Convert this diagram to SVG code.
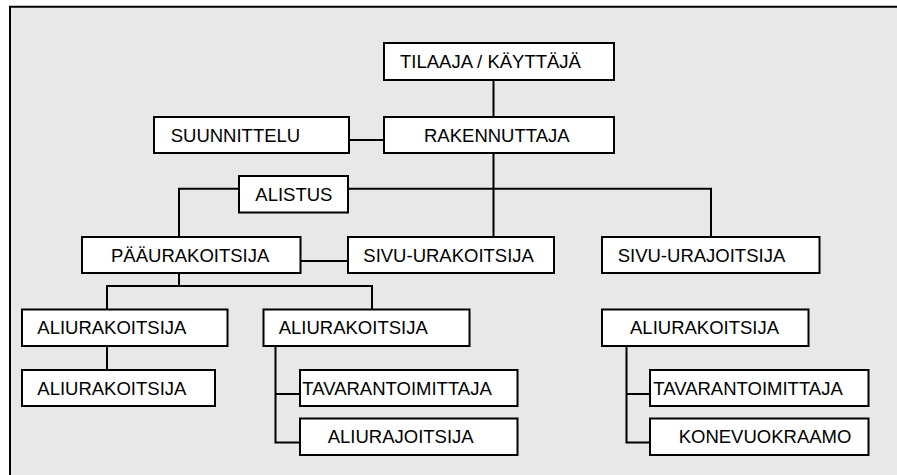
<svg xmlns="http://www.w3.org/2000/svg" width="897" height="475" viewBox="0 0 897 475">
<style>
.bx{fill:#fff;stroke:#000;stroke-width:2}
.t{font-family:"Liberation Sans",Arial,sans-serif;font-size:18.5px;fill:#000}
.c{fill:none;stroke:#000;stroke-width:2}
</style>
<rect x="0" y="0" width="897" height="475" fill="#fff"/>
<rect x="10" y="7" width="887" height="468" fill="#e8e8e8"/>
<path d="M10 475 V6.7 H897" fill="none" stroke="#000" stroke-width="2"/>
<g id="connectors" class="c">
<path d="M493.5 80 V117"/>
<path d="M349 140 H384"/>
<path d="M493.5 153 V237"/>
<path d="M179 237 V188.7 H239"/>
<path d="M348 188.7 H711 V237"/>
<path d="M300 261 H348"/>
<path d="M179 273 V286"/>
<path d="M107 309 V286 H372 V309"/>
<path d="M107 346 V370"/>
<path d="M275.5 346 V442.5 H300 M275.5 394 H300"/>
<path d="M626.5 346 V442.5 H650 M626.5 394 H650"/>
</g>
<g id="tilaaja"><rect class="bx" x="384" y="43" width="230" height="37"/><text class="t" x="400" y="68.3">TILAAJA / KÄYTTÄJÄ</text></g>
<g id="rakennuttaja"><rect class="bx" x="384" y="117" width="230" height="36"/><text class="t" x="424" y="141.7">RAKENNUTTAJA</text></g>
<g id="suunnittelu"><rect class="bx" x="154" y="117" width="195" height="36"/><text class="t" x="170.7" y="141.7">SUUNNITTELU</text></g>
<g id="alistus"><rect class="bx" x="239" y="176" width="109" height="36.5"/><text class="t" x="255.3" y="200.9">ALISTUS</text></g>
<g id="paaurakoitsija"><rect class="bx" x="82" y="237" width="218.5" height="36"/><text class="t" x="111" y="261.6">PÄÄURAKOITSIJA</text></g>
<g id="sivu-urakoitsija"><rect class="bx" x="348" y="237" width="206" height="36"/><text class="t" x="363.3" y="261.6">SIVU-URAKOITSIJA</text></g>
<g id="sivu-urajoitsija"><rect class="bx" x="602" y="237" width="217.5" height="36"/><text class="t" x="617.7" y="261.6">SIVU-URAJOITSIJA</text></g>
<g id="aliurakoitsija1"><rect class="bx" x="22" y="309.5" width="205.5" height="36.5"/><text class="t" x="37.3" y="334.4">ALIURAKOITSIJA</text></g>
<g id="aliurakoitsija1b"><rect class="bx" x="22" y="370" width="193" height="36"/><text class="t" x="37.3" y="394.6">ALIURAKOITSIJA</text></g>
<g id="aliurakoitsija2"><rect class="bx" x="263.5" y="309.5" width="206" height="36.5"/><text class="t" x="278.7" y="334.4">ALIURAKOITSIJA</text></g>
<g id="tavarantoimittaja1"><rect class="bx" x="300" y="370" width="217.5" height="36"/><text class="t" x="302.3" y="394.6">TAVARANTOIMITTAJA</text></g>
<g id="aliurajoitsija"><rect class="bx" x="300" y="418.5" width="217.5" height="36.5"/><text class="t" x="327.7" y="443.4">ALIURAJOITSIJA</text></g>
<g id="aliurakoitsija3"><rect class="bx" x="602" y="309.5" width="206.5" height="36.5"/><text class="t" x="630" y="334.4">ALIURAKOITSIJA</text></g>
<g id="tavarantoimittaja2"><rect class="bx" x="650" y="370" width="218.5" height="36"/><text class="t" x="653.3" y="394.6">TAVARANTOIMITTAJA</text></g>
<g id="konevuokraamo"><rect class="bx" x="650" y="418.5" width="218.5" height="36.5"/><text class="t" x="678.7" y="443.4">KONEVUOKRAAMO</text></g>
</svg>
